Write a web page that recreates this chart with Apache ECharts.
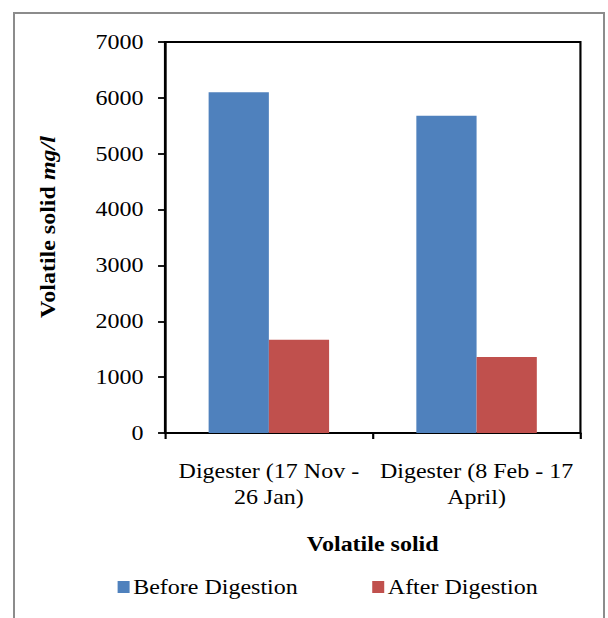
<!DOCTYPE html>
<html>
<head>
<meta charset="utf-8">
<script src="https://cdn.jsdelivr.net/npm/echarts@6/dist/echarts.min.js"></script>
<style>
  html, body { margin: 0; padding: 0; background: #fff; overflow: hidden; }
  #frame { position: absolute; left: 13px; top: 12px; width: 592px; height: 620px; border: 2px solid #8c8c8c; border-bottom: none; box-sizing: border-box; }
  /* the chart is laid out narrower and widened 1.2x, giving the wide serif lettering */
  #chart { position: absolute; left: 0; top: 0; width: 506.67px; height: 618px; transform: scaleX(1.2); transform-origin: 0 0; }
</style>
</head>
<body>
<div id="frame"></div>
<div id="chart"></div>
<script>
// Volatile solid content before and after digestion for two digester runs
const categories = ['Digester (17 Nov -\n26 Jan)', 'Digester (8 Feb - 17\nApril)'];
const beforeDigestion = [6100, 5680];
const afterDigestion = [1670, 1360];
const seriesNames = ['Before Digestion', 'After Digestion'];
const yTicks = { min: 0, max: 7000, interval: 1000 };
const yTitle = ['Volatile solid ', 'mg/l'];

const serif = '"Liberation Serif", "Times New Roman", serif';
const chart = echarts.init(document.getElementById('chart'), null, { renderer: 'svg' });

chart.setOption({
  animation: false,
  textStyle: { fontFamily: serif, color: '#000' },
  grid: { left: 137.5, right: 23.3, top: 42, bottom: 185, show: true, borderColor: '#000', borderWidth: 1.8, backgroundColor: 'transparent' },
  legend: {
    top: 572,
    left: 93,
    itemWidth: 10,
    itemHeight: 12,
    itemGap: 62,
    icon: 'rect',
    textStyle: { fontFamily: serif, fontSize: 20, color: '#000', padding: [0, 0, 0, -2] },
    data: seriesNames
  },
  // rotated axis title, drawn narrower across so it is not widened with the rest
  graphic: [{
    type: 'text',
    x: 40,
    y: 227,
    rotation: Math.PI / 2,
    scaleY: 0.75,
    style: {
      text: '{b|' + yTitle[0] + '}{i|' + yTitle[1] + '}',
      align: 'center',
      verticalAlign: 'middle',
      rich: {
        b: { fontFamily: serif, fontSize: 24, fontWeight: 'bold', fill: '#000' },
        i: { fontFamily: serif, fontSize: 24, fontWeight: 'bold', fontStyle: 'italic', fill: '#000' }
      }
    }
  }],
  xAxis: {
    type: 'category',
    data: categories,
    name: 'Volatile solid',
    nameLocation: 'middle',
    nameGap: 101,
    nameTextStyle: { fontFamily: serif, fontSize: 20, fontWeight: 'bold', color: '#000' },
    axisLine: { lineStyle: { color: '#000', width: 1.8 } },
    axisTick: { show: true, length: 6, lineStyle: { color: '#000', width: 1.8 } },
    axisLabel: { fontFamily: serif, fontSize: 20, color: '#000', lineHeight: 26, margin: 25, interval: 0 }
  },
  yAxis: {
    type: 'value',
    min: yTicks.min,
    max: yTicks.max,
    interval: yTicks.interval,
    splitLine: { show: false },
    axisLine: { show: true, lineStyle: { color: '#000', width: 1.8 } },
    axisTick: { show: true, length: 5.8, lineStyle: { color: '#000', width: 1.8 } },
    axisLabel: { fontFamily: serif, fontSize: 20, color: '#000', margin: 18, formatter: v => String(v) }
  },
  series: [
    {
      name: seriesNames[0],
      type: 'bar',
      data: beforeDigestion,
      barGap: '0%',
      barCategoryGap: '42%',
      itemStyle: { color: '#4f81bd' }
    },
    {
      name: seriesNames[1],
      type: 'bar',
      data: afterDigestion,
      barGap: '0%',
      barCategoryGap: '42%',
      itemStyle: { color: '#c0504d' }
    }
  ]
});
</script>
</body>
</html>
